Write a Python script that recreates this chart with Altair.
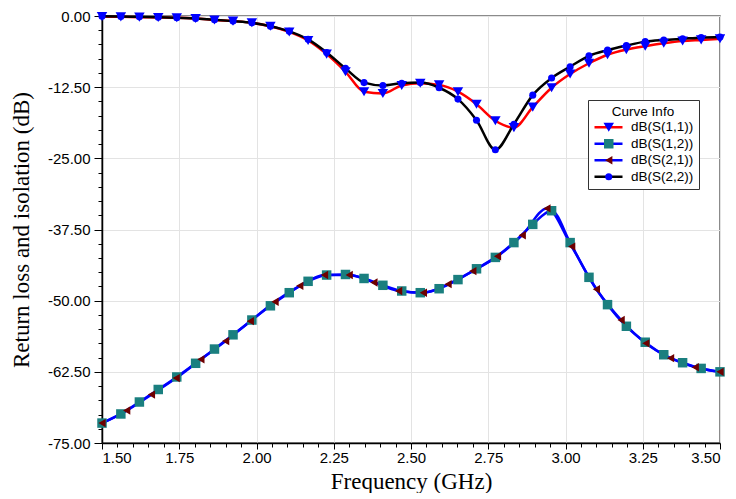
import altair as alt
import pandas as pd

# Frequencies (GHz) of the S11 / S12 / S22 samples
freq_a = [1.500, 1.561, 1.621, 1.682, 1.742, 1.803, 1.864, 1.924, 1.985, 2.045,
          2.106, 2.167, 2.227, 2.288, 2.348, 2.409, 2.470, 2.530, 2.591, 2.652,
          2.712, 2.773, 2.833, 2.894, 2.955, 3.015, 3.076, 3.136, 3.197, 3.258,
          3.318, 3.379, 3.439, 3.500]

s11 = [-0.1, -0.15, -0.2, -0.25, -0.3, -0.45, -0.7, -0.9, -1.2, -1.8,
       -2.8, -4.3, -6.7, -9.8, -13.3, -13.6, -12.2, -11.8, -12.1, -13.3,
       -15.5, -18.4, -19.6, -16.0, -12.6, -10.2, -8.3, -6.8, -5.9, -5.3,
       -4.8, -4.4, -4.2, -4.0]

s22 = [-0.05, -0.1, -0.15, -0.2, -0.3, -0.45, -0.65, -0.9, -1.2, -1.8,
       -2.7, -4.1, -6.4, -9.2, -11.7, -12.2, -11.8, -11.7, -12.6, -14.6,
       -18.3, -23.5, -19.0, -13.9, -10.9, -8.9, -7.0, -6.0, -5.2, -4.5,
       -4.2, -4.0, -3.8, -3.7]

s12 = [-71.5, -69.9, -67.8, -65.6, -63.4, -61.0, -58.5, -56.0, -53.4, -50.9,
       -48.6, -46.6, -45.5, -45.4, -46.1, -47.3, -48.3, -48.6, -47.9, -46.3,
       -44.4, -42.4, -39.8, -36.6, -34.2, -39.8, -45.9, -50.7, -54.5, -57.3,
       -59.5, -60.9, -61.9, -62.5]

# Frequencies (GHz) of the S21 samples
freq_b = [1.50, 1.58, 1.66, 1.74, 1.82, 1.90, 1.98, 2.06, 2.14, 2.22,
          2.30, 2.38, 2.46, 2.54, 2.62, 2.70, 2.78, 2.86, 2.94, 3.02,
          3.10, 3.18, 3.26, 3.34, 3.42, 3.50]

s21 = [-71.5, -69.3, -66.5, -63.6, -60.3, -57.1, -53.6, -50.2, -47.4, -45.5,
       -45.5, -46.8, -48.3, -48.6, -47.1, -44.8, -42.2, -38.5, -33.8, -40.5,
       -48.0, -53.4, -57.5, -60.1, -61.7, -62.5]

names = ["dB(S(1,1))", "dB(S(1,2))", "dB(S(2,1))", "dB(S(2,2))"]
marker_ids = ["m11", "m12", "m21", "m22"]
line_colors = ["#ff0000", "#0000ff", "#0000ff", "#000000"]
marker_colors = ["#0000ff", "#1a7f7f", "#6e0000", "#0000ff"]
marker_shapes = ["triangle-down", "square", "triangle-left", "circle"]
marker_sizes = [110, 50, 110, 85]

x_ticks = [round(1.5 + 0.05 * i, 2) for i in range(41)]
y_ticks = [round(-75 + 2.5 * i, 1) for i in range(31)]

rows = []
for f, v in zip(freq_a, s11):
    rows.append({"freq": f, "val": v, "series": names[0], "marker": marker_ids[0]})
for f, v in zip(freq_a, s12):
    rows.append({"freq": f, "val": v, "series": names[1], "marker": marker_ids[1]})
for f, v in zip(freq_b, s21):
    rows.append({"freq": f, "val": v, "series": names[2], "marker": marker_ids[2]})
for f, v in zip(freq_a, s22):
    rows.append({"freq": f, "val": v, "series": names[3], "marker": marker_ids[3]})
df = pd.DataFrame(rows)

MINUS = "\u2212"

x_major = "abs(round(datum.value * 100) % 25) == 0"
y_major = "abs(round(datum.value * 10) % 125) == 0"

x_enc = alt.X(
    "freq:Q",
    scale=alt.Scale(domain=[1.5, 3.5], nice=False, zero=False),
    axis=alt.Axis(
        values=x_ticks,
        title="Frequency (GHz)",
        labelExpr=f"{x_major} ? replace(format(datum.value, '.2f'), '{MINUS}', '-') : ''",
        tickSize={"condition": {"test": x_major, "value": 6}, "value": 4},
        gridOpacity={"condition": {"test": x_major, "value": 1}, "value": 0},
        labelPadding=1,
        titlePadding=5,
    ),
)
y_enc = alt.Y(
    "val:Q",
    scale=alt.Scale(domain=[-75, 0], nice=False, zero=False),
    axis=alt.Axis(
        values=y_ticks,
        title="Return loss and isolation (dB)",
        labelExpr=f"{y_major} ? replace(format(datum.value, '.2f'), '{MINUS}', '-') : ''",
        tickSize={"condition": {"test": y_major, "value": 8}, "value": 4},
        gridOpacity={"condition": {"test": y_major, "value": 1}, "value": 0},
        labelPadding=4,
        titlePadding=14,
    ),
)

legend_common = dict(
    orient="none",
    legendX=486,
    legendY=84,
    labelFont="Liberation Sans",
    labelFontSize=13.5,
    titleFont="Liberation Sans",
    titleFontSize=13.5,
    titleFontWeight="normal",
    titleAnchor="middle",
    padding=5,
    rowPadding=1.5,
    clipHeight=13.5,
    titlePadding=2,
    labelLimit=200,
)

lines = alt.Chart(df).mark_line(interpolate="monotone", strokeWidth=2.5).encode(
    x=x_enc,
    y=y_enc,
    stroke=alt.Stroke(
        "series:N",
        scale=alt.Scale(domain=names, range=line_colors),
        legend=alt.Legend(
            title="Curve Info",
            symbolType="stroke",
            symbolSize=784,
            symbolStrokeWidth=2.5,
            strokeColor="#333333",
            fillColor="white",
            labelOffset=7,
            **legend_common,
        ),
    ),
)

marker_legend = alt.Legend(
    title=" ",
    symbolStrokeWidth=0,
    labelExpr="''",
    symbolOffset=9,
    labelOffset=0,
    **legend_common,
)

points = alt.Chart(df).mark_point(filled=True, opacity=1, strokeWidth=0).encode(
    x=x_enc,
    y=y_enc,
    shape=alt.Shape("marker:N", scale=alt.Scale(domain=marker_ids, range=marker_shapes), legend=marker_legend),
    fill=alt.Fill("marker:N", scale=alt.Scale(domain=marker_ids, range=marker_colors), legend=marker_legend),
    size=alt.Size("marker:N", scale=alt.Scale(domain=marker_ids, range=marker_sizes), legend=marker_legend),
)

chart = alt.layer(lines, points).properties(
    width=618,
    height=427,
    autosize=alt.AutoSizeParams(type="none"),
    padding={"left": 94, "top": 8, "right": 5, "bottom": 50},
).configure_view(
    stroke="#666666", strokeWidth=1.5
).configure_axis(
    domainColor="#000000",
    domainWidth=1.5,
    tickColor="#000000",
    tickWidth=1,
    gridColor="#e3e3e3",
    gridWidth=1,
    labelFont="Liberation Sans",
    labelFontSize=15,
    labelColor="#000000",
    titleFont="Liberation Serif",
    titleFontSize=23,
    titleFontWeight="normal",
    titleColor="#000000",
)

chart.save("out.html", embed_options={"renderer": "svg", "actions": False})
